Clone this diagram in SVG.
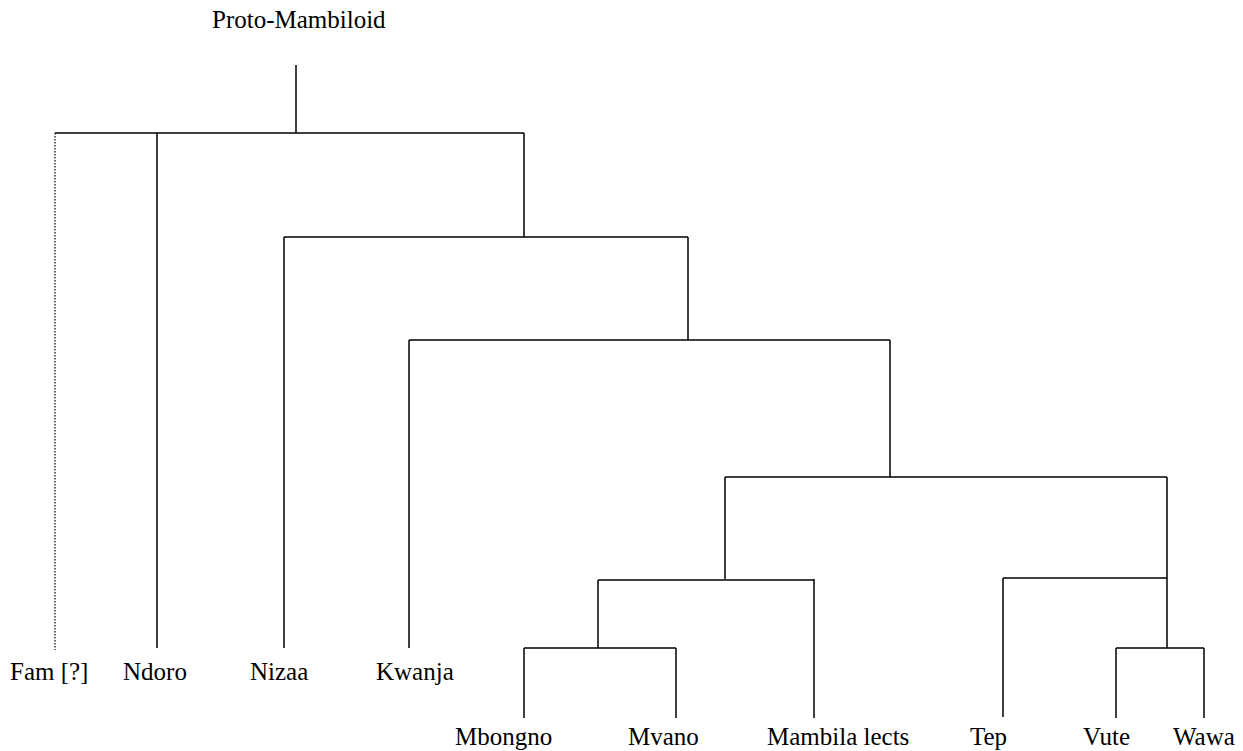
<svg xmlns="http://www.w3.org/2000/svg" width="1243" height="751" viewBox="0 0 1243 751">
<style>
.l{stroke:#000;stroke-width:1.5;fill:none}
.d{stroke:#000;stroke-width:1.2;stroke-dasharray:1.5 1.5;fill:none}
text{font-family:"Liberation Serif","Times New Roman",serif;font-size:25px;fill:#000}
</style>
<rect width="1243" height="751" fill="#fff"/>
<g id="connectors">
<path class="l" d="M296 65V133M55 133H524M157 133V648M524 133V237M284 237H688M284 237V648M688 237V340M409 340H890M409 340V648M890 340V477M725 477H1167M725 477V579M598 580H814M598 580V648M524 648H676M524 648V718M676 648V718M814 579V718M1167 477V578M1003 578H1167M1003 578V717M1167 578V648M1116 648H1204M1116 648V718M1204 648V718"/>
<path class="d" d="M55 133V650"/>
</g>
<g id="n-root"><text x="212" y="28">Proto-Mambiloid</text></g>
<g id="n-fam"><text x="10" y="680">Fam [?]</text></g>
<g id="n-ndoro"><text x="123" y="680">Ndoro</text></g>
<g id="n-nizaa"><text x="250" y="680">Nizaa</text></g>
<g id="n-kwanja"><text x="376" y="680">Kwanja</text></g>
<g id="n-mbongno"><text x="455" y="745">Mbongno</text></g>
<g id="n-mvano"><text x="628" y="745">Mvano</text></g>
<g id="n-mambila"><text x="767" y="745">Mambila lects</text></g>
<g id="n-tep"><text x="970" y="745">Tep</text></g>
<g id="n-vute"><text x="1083" y="745">Vute</text></g>
<g id="n-wawa"><text x="1173" y="745">Wawa</text></g>
</svg>
